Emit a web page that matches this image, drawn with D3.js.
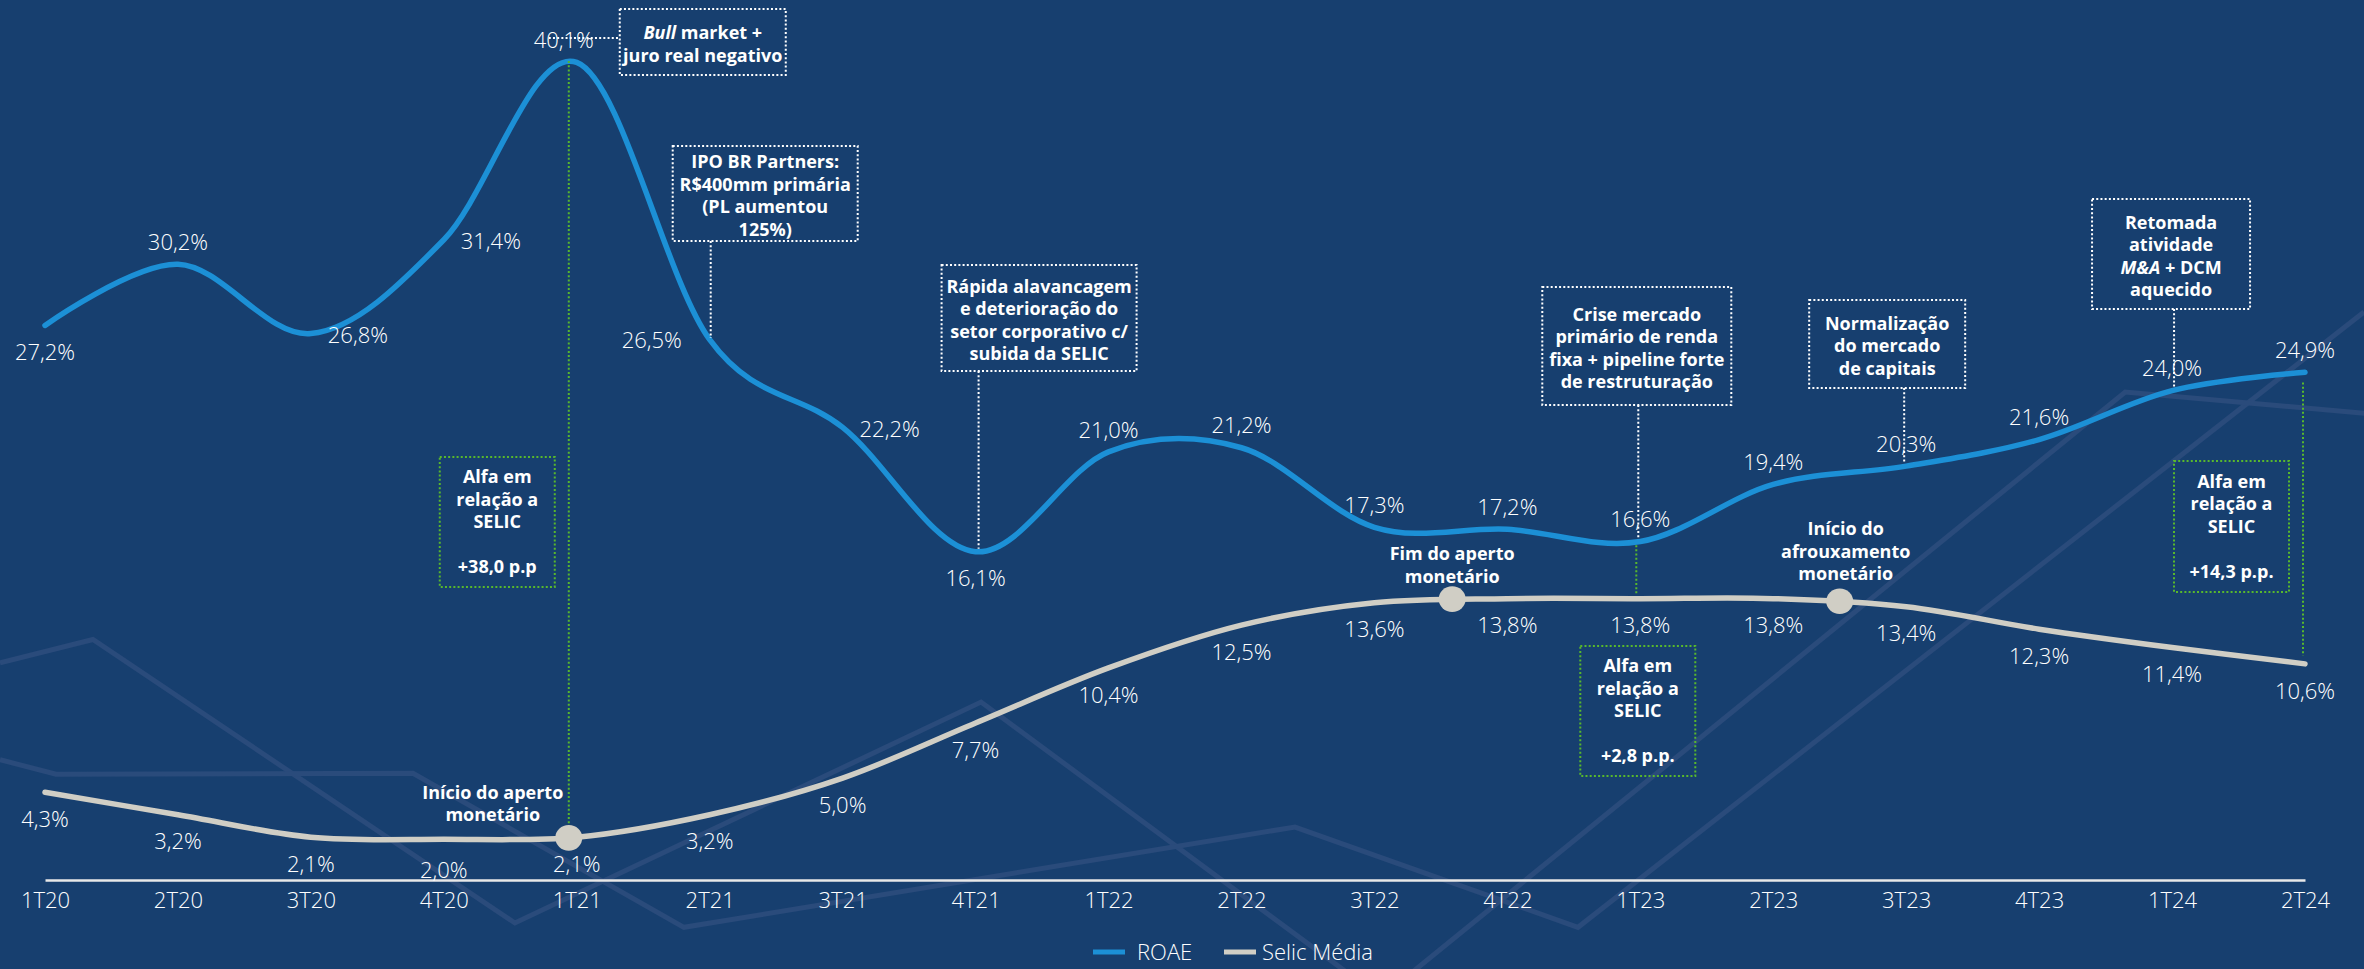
<!DOCTYPE html>
<html><head><meta charset="utf-8">
<script src="https://cdn.jsdelivr.net/npm/d3@7"></script>
<style>
html,body{margin:0;padding:0;background:#173F6F;overflow:hidden}
svg{display:block}
text{font-family:"Open Sans","Noto Sans",sans-serif}
</style></head><body>
<svg id="chart" width="2364" height="969"></svg>
<script>
// ---------- data ----------
const categories = ["1T20","2T20","3T20","4T20","1T21","2T21","3T21","4T21","1T22","2T22","3T22","4T22","1T23","2T23","3T23","4T23","1T24","2T24"];
const roae  = [27.2,30.2,26.8,31.4,40.1,26.5,22.2,16.1,21.0,21.2,17.3,17.2,16.6,19.4,20.3,21.6,24.0,24.9];
const selic = [4.3,3.2,2.1,2.0,2.1,3.2,5.0,7.7,10.4,12.5,13.6,13.8,13.8,13.8,13.4,12.3,11.4,10.6];
const seriesNames = ["ROAE","Selic Média"];

// ---------- label placement (layout, not data) ----------
const roaePlace  = ["below","above","right","right","aboveleft","left","right","below","above","above","above","above","above","above","above","above","above","above"];
const selicPlace = ["below","below","below","below2","below","below","below","below","below","below","below","below","below","below","below","below","below","below"];
const placeOffset = {
  above:[0,-22], below:[0,27], below2:[0,31], right:[47,2], left:[-58,1], aboveleft:[-13,-22]
};

// annotation boxes (white dotted): anchor category, box offsets
const notes = [
  {anchor:"1T21", lines:[["<i>Bull</i>"," market +"],["juro real negativo"]], box:[43,9,166,66], conn:{type:"h", y:38, x1:-28}},
  {anchor:"2T21", lines:[["IPO BR Partners:"],["R$400mm primária"],["(PL aumentou"],["125%)"]], box:[-37,146,185,95], conn:{type:"v", dx:1}},
  {anchor:"4T21", lines:[["Rápida alavancagem"],["e deterioração do"],["setor corporativo c/"],["subida da SELIC"]], box:[-34,265,195,106], conn:{type:"v", dx:3}},
  {anchor:"1T23", lines:[["Crise mercado"],["primário de renda"],["fixa + pipeline forte"],["de restruturação"]], box:[-98,287,189,118], conn:{type:"v", dx:-2}},
  {anchor:"3T23", lines:[["Normalização"],["do mercado"],["de capitais"]], box:[-97,300,156,88], conn:{type:"v", dx:-2}},
  {anchor:"1T24", lines:[["Retomada"],["atividade"],["<i>M&A</i>"," + DCM"],["aquecido"]], box:[-80,199,158,110], conn:{type:"v", dx:2}}
];
// alpha boxes (green dotted)
const alphas = [
  {anchor:"1T21", lines:["Alfa em","relação a","SELIC","","+38,0 p.p"], box:[-137,457,115,130]},
  {anchor:"1T23", lines:["Alfa em","relação a","SELIC","","+2,8 p.p."], box:[-60,646,115,130]},
  {anchor:"2T24", lines:["Alfa em","relação a","SELIC","","+14,3 p.p."], box:[-131,461,115,131]}
];
// dots on the Selic line (fractional category index) with captions
const dots = [
  {idx:3.94, lines:["Início do aperto","monetário"], cx:-76, cy:[793,815]},
  {idx:10.585, lines:["Fim do aperto","monetário"], cx:0, cy:[554,577]},
  {idx:13.5, lines:["Início do","afrouxamento","monetário"], cx:6, cy:[529,552,574]}
];
// green vertical "alpha" links: fractional index
const alphaLinks = [ {idx:3.94, to:"dot"}, {idx:11.97, to:"selic"}, {idx:16.985, to:"end"} ];

// decorative background lines (fractions of width/height)
const decor = [
  [[0,.684],[.0393,.660],[.2178,.9525],[.415,.7245],[.58,1.022]],
  [[0,.784],[.0237,.799],[.1747,.798],[.2893,.957],[.5478,.8535],[.6675,.957],[1,.322]],
  [[.588,1.022],[.899,.4045],[1.002,.427]]
];

// ---------- setup ----------
const W = 2364, H = 969;
const svg = d3.select("#chart");
svg.append("rect").attr("width",W).attr("height",H).attr("fill","#173F6F");

const x = d3.scalePoint().domain(categories).range([45,2305]);
const y = d3.scaleLinear().domain([0,43.16]).range([880,0]);
const xi = i => x.range()[0] + i*x.step();
const loc = d3.formatLocale({decimal:",",thousands:".",grouping:[3],currency:["R$",""]});
const fmt = v => loc.format(".1f")(v) + "%";

// decor
const dl = d3.line().x(d=>d[0]*W).y(d=>d[1]*H);
svg.append("g").selectAll("path").data(decor).join("path")
  .attr("d",dl).attr("fill","none").attr("stroke","#2A4B7B").attr("stroke-width",5).attr("stroke-linejoin","miter");

// axis
const ax = svg.append("g").attr("transform","translate(0,880)")
  .call(d3.axisBottom(x).tickSize(0).tickSizeOuter(0).tickPadding(0));
ax.select(".domain").attr("stroke","#E8E8E8").attr("stroke-width",2.5);
ax.selectAll(".tick text").attr("y",20).attr("dy","0.35em").attr("fill","#fff")
  .attr("font-size",22).attr("font-weight",300);

// lines
const lineGen = d3.line().x((d,i)=>x(categories[i])).y(d=>y(d)).curve(d3.curveCatmullRom.alpha(0));
const selicPath = svg.append("path").datum(selic).attr("d",lineGen)
  .attr("fill","none").attr("stroke","#D0CEC5").attr("stroke-width",5.5).attr("stroke-linecap","round");
const roaePath = svg.append("path").datum(roae).attr("d",lineGen)
  .attr("fill","none").attr("stroke","#1C90D6").attr("stroke-width",5.5).attr("stroke-linecap","round");

function yAt(node, px){
  let lo=0, hi=node.getTotalLength();
  for(let k=0;k<40;k++){ const m=(lo+hi)/2; if(node.getPointAtLength(m).x<px) lo=m; else hi=m; }
  return node.getPointAtLength((lo+hi)/2).y;
}

const dotStyle = s => s.attr("fill","none").attr("stroke-width",2).attr("stroke-dasharray","2 2.2");

// white annotation boxes + connectors
const ng = svg.append("g");
notes.forEach(n=>{
  const ax0 = x(n.anchor);
  const [dx,top,w,h] = n.box;
  ng.append("rect").attr("x",ax0+dx).attr("y",top).attr("width",w).attr("height",h)
    .attr("stroke","#fff").call(dotStyle);
  const cx = ax0+dx+w/2, cy = top+h/2+2, lh = 22.5;
  n.lines.forEach((ln,i)=>{
    const t = ng.append("text").attr("x",cx).attr("y",cy+(i-(n.lines.length-1)/2)*lh).attr("dy","0.35em")
      .attr("text-anchor","middle").attr("fill","#fff").attr("font-size",18).attr("font-weight",700);
    ln.forEach(seg=>{
      const it = seg.startsWith("<i>");
      t.append("tspan").text(it?seg.replace(/<\/?i>/g,""):seg).attr("font-style",it?"italic":null);
    });
  });
  if(n.conn.type==="v"){
    const px = ax0+n.conn.dx;
    ng.append("line").attr("x1",px).attr("x2",px).attr("y1",top+h).attr("y2",yAt(roaePath.node(),px)-3)
      .attr("stroke","#fff").call(dotStyle);
  } else {
    ng.append("line").attr("x1",ax0+n.conn.x1).attr("x2",ax0+dx).attr("y1",n.conn.y).attr("y2",n.conn.y)
      .attr("stroke","#fff").call(dotStyle);
  }
});

// green alpha boxes
const ag = svg.append("g");
alphas.forEach(a=>{
  const ax0 = x(a.anchor);
  const [dx,top,w,h] = a.box;
  ag.append("rect").attr("x",ax0+dx).attr("y",top).attr("width",w).attr("height",h)
    .attr("stroke","#58B82C").call(dotStyle);
  const cx = ax0+dx+w/2, cy = top+h/2, lh = 22.5;
  a.lines.forEach((ln,i)=>{
    ag.append("text").attr("x",cx).attr("y",cy+(i-(a.lines.length-1)/2)*lh).attr("dy","0.35em")
      .attr("text-anchor","middle").attr("fill","#fff").attr("font-size",18).attr("font-weight",700).text(ln);
  });
});

// green links
alphaLinks.forEach(l=>{
  const px = xi(l.idx);
  let y1 = yAt(roaePath.node(),px), y2 = yAt(selicPath.node(),px);
  if(l.to==="dot"){ y2 -= 13; } else if(l.to==="end"){ y1 += 10; y2 -= 8; } else { y1 += 3; y2 -= 3; }
  ag.append("line").attr("x1",px).attr("x2",px).attr("y1",y1).attr("y2",y2)
    .attr("stroke","#58B82C").call(dotStyle);
});

// dots + captions
const dg = svg.append("g");
dots.forEach(d=>{
  const px = xi(d.idx), py = yAt(selicPath.node(),px);
  dg.append("ellipse").attr("cx",px).attr("cy",py).attr("rx",13.5).attr("ry",12.8).attr("fill","#D0CEC5");
  d.lines.forEach((ln,i)=>{
    dg.append("text").attr("x",px+d.cx).attr("y",d.cy[i]).attr("dy","0.35em").attr("text-anchor","middle")
      .attr("fill","#fff").attr("font-size",18).attr("font-weight",700).text(ln);
  });
});

// data labels
const lg = svg.append("g").attr("fill","#fff").attr("font-size",22).attr("font-weight",300).attr("text-anchor","middle");
function labels(vals, place){
  lg.selectAll(null).data(vals).join("text")
    .attr("x",(d,i)=>x(categories[i])+placeOffset[place[i]][0])
    .attr("y",(d,i)=>y(d)+placeOffset[place[i]][1])
    .attr("dy","0.35em").text(fmt);
}
labels(roae, roaePlace);
labels(selic, selicPlace);

// legend
const leg = svg.append("g").attr("transform","translate(1093,952)");
const legColors = ["#1C90D6","#D0CEC5"];
const legX = [0,131];
seriesNames.forEach((s,i)=>{
  leg.append("line").attr("x1",legX[i]).attr("x2",legX[i]+32).attr("y1",0).attr("y2",0)
    .attr("stroke",legColors[i]).attr("stroke-width",5);
  leg.append("text").attr("x",legX[i]+(i?38:44)).attr("y",0).attr("dy","0.35em")
    .attr("fill","#fff").attr("font-size",22).attr("font-weight",300).text(s);
});
</script>
</body></html>
